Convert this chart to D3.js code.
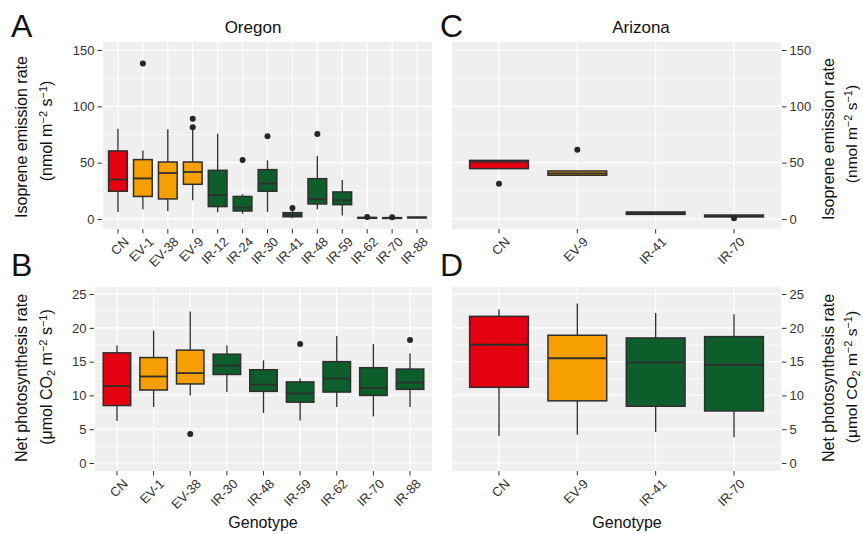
<!DOCTYPE html>
<html>
<head>
<meta charset="utf-8">
<script src="https://d3js.org/d3.v7.min.js"></script>
<style>
  body { margin: 0; background: #fff; }
  text { font-family: "Liberation Sans", Arial, sans-serif; }
  .tick text, .xlab { font-size: 13px; fill: #333; }
  .tick line { stroke: #333; }
  path.domain { display: none; }
  .atitle { font-size: 16px; fill: #111; }
  .strip { font-size: 17px; fill: #111; }
  .letter { font-size: 32px; fill: #111; }
</style>
</head>
<body>
<script>
// ---- data ----
// boxes: [lower whisker, Q1, median, Q3, upper whisker]
const oregonIsoGenotypes = ['CN','EV-1','EV-38','EV-9','IR-12','IR-24','IR-30','IR-41','IR-48','IR-59','IR-62','IR-70','IR-88'];
const oregonIsoBoxes = [
  [6.2, 24.6, 35, 60.4, 80],
  [8.6, 20, 36, 52.7, 60.7],
  [6.8, 17.8, 40.8, 50.6, 79.6],
  [16.6, 30.8, 41.7, 50.6, 79],
  [6, 11, 21.3, 43.2, 75.7],
  [4.7, 7.1, 10, 20, 21.9],
  [6.2, 24.6, 31.4, 43.8, 52],
  [0.6, 2, 3.6, 5.6, 7.5],
  [8.6, 13.3, 17.5, 35.8, 56],
  [3, 12.7, 16.6, 24, 34.6],
  [0.3, 0.6, 1.0, 1.4, 1.8],
  [0.2, 0.5, 0.8, 1.2, 1.6],
  [0.8, 1.0, 1.3, 1.6, 1.9]
];
const oregonIsoOutliers = [[], [138], [], [81.4, 89], [], [52.4], [73.4], [9.8], [75.4], [], [1.8], [1.6], []];

const arizonaIsoGenotypes = ['CN','EV-9','IR-41','IR-70'];
const arizonaIsoBoxes = [
  [44.7, 44.7, 51, 52, 52],
  [38.8, 38.8, 40.5, 42.6, 42.6],
  [4.1, 4.1, 5, 6.2, 6.2],
  [1.8, 1.8, 2.8, 3.5, 3.5]
];
const arizonaIsoOutliers = [[31.2], [61.5], [], [0.6]];

const oregonPhotoGenotypes = ['CN','EV-1','EV-38','IR-30','IR-48','IR-59','IR-62','IR-70','IR-88'];
const oregonPhotoBoxes = [
  [6.2, 8.5, 11.4, 16.3, 17.4],
  [8.3, 10.8, 12.8, 15.6, 19.6],
  [10, 11.7, 13.3, 16.7, 22.4],
  [10.5, 13.1, 14.4, 16.1, 17.4],
  [7.4, 10.6, 11.6, 13.8, 15.2],
  [6.3, 9, 10.3, 12, 12.5],
  [8.3, 10.5, 12.5, 15, 18.8],
  [6.9, 10, 11.1, 14.1, 17.6],
  [8.3, 10.9, 11.9, 13.9, 16.2]
];
const oregonPhotoOutliers = [[], [], [4.3], [], [], [17.6], [], [], [18.2]];

const arizonaPhotoGenotypes = ['CN','EV-9','IR-41','IR-70'];
const arizonaPhotoBoxes = [
  [4, 11.2, 17.5, 21.7, 22.7],
  [4.2, 9.2, 15.5, 18.9, 23.6],
  [4.6, 8.4, 14.9, 18.5, 22.2],
  [3.8, 7.7, 14.5, 18.7, 22]
];
const arizonaPhotoOutliers = [[], [], [], []];

const isoTicks = [0, 50, 100, 150];
const photoTicks = [0, 5, 10, 15, 20, 25];

const width = 863, height = 534;
const svg = d3.select('body').append('svg')
  .attr('width', width).attr('height', height);
svg.append('rect').attr('width', width).attr('height', height).attr('fill', '#fff');

function fillFor(g) {
  if (g === 'CN') return '#e3000f';
  if (g.startsWith('EV')) return '#f5a000';
  return '#0d5e2a';
}

function panel(o) {
  const g = svg.append('g');
  const x = d3.scalePoint().domain(o.genotypes).range([o.x0, o.x1]).padding(0.6);
  const y = d3.scaleLinear().domain(o.domain).range([o.y1, o.y0]);
  const step = x.step(), bw = step * 0.75;

  g.append('rect')
    .attr('x', o.x0).attr('y', o.y0)
    .attr('width', o.x1 - o.x0).attr('height', o.y1 - o.y0)
    .attr('fill', '#efefef');

  // minor grid
  const minor = o.ticks.slice(1).map((t, i) => (t + o.ticks[i]) / 2);
  g.selectAll('line.minor').data(minor).enter().append('line')
    .attr('x1', o.x0).attr('x2', o.x1)
    .attr('y1', d => y(d)).attr('y2', d => y(d))
    .attr('stroke', '#fff').attr('stroke-width', 0.6);
  g.selectAll('line.major').data(o.ticks).enter().append('line')
    .attr('x1', o.x0).attr('x2', o.x1)
    .attr('y1', d => y(d)).attr('y2', d => y(d))
    .attr('stroke', '#fff').attr('stroke-width', 1.2);
  g.selectAll('line.vmajor').data(o.genotypes).enter().append('line')
    .attr('x1', d => x(d)).attr('x2', d => x(d))
    .attr('y1', o.y0).attr('y2', o.y1)
    .attr('stroke', '#fff').attr('stroke-width', 1.2);

  // boxes
  const items = o.genotypes.map((name, i) => ({name, s: o.boxes[i], out: o.outliers[i]}));
  const b = g.selectAll('g.box').data(items).enter().append('g');
  b.append('line')
    .attr('x1', d => x(d.name)).attr('x2', d => x(d.name))
    .attr('y1', d => y(d.s[0])).attr('y2', d => y(d.s[4]))
    .attr('stroke', '#2e2e2e').attr('stroke-width', 1.3);
  b.append('rect')
    .attr('x', d => x(d.name) - bw / 2).attr('width', bw)
    .attr('y', d => y(d.s[3])).attr('height', d => Math.max(y(d.s[1]) - y(d.s[3]), 0.5))
    .attr('fill', d => fillFor(d.name))
    .attr('stroke', '#2e2e2e').attr('stroke-width', 1.5);
  b.append('line')
    .attr('x1', d => x(d.name) - bw / 2).attr('x2', d => x(d.name) + bw / 2)
    .attr('y1', d => y(d.s[2])).attr('y2', d => y(d.s[2]))
    .attr('stroke', '#2e2e2e').attr('stroke-width', 1.8);
  b.selectAll('circle').data(d => d.out.map(v => ({name: d.name, v}))).enter().append('circle')
    .attr('cx', d => x(d.name)).attr('cy', d => y(d.v)).attr('r', 3)
    .attr('fill', '#262626');

  // y axis
  const axis = (o.side === 'left' ? d3.axisLeft(y) : d3.axisRight(y))
    .tickValues(o.ticks).tickSize(4.5).tickPadding(3);
  g.append('g')
    .attr('transform', `translate(${o.side === 'left' ? o.x0 - 1 : o.x1 + 1},0)`)
    .call(axis);

  // x ticks & rotated labels
  g.selectAll('line.xt').data(o.genotypes).enter().append('line')
    .attr('x1', d => x(d)).attr('x2', d => x(d))
    .attr('y1', o.y1).attr('y2', o.y1 + 4.5)
    .attr('stroke', '#333');
  g.selectAll('text.xlab').data(o.genotypes).enter().append('text')
    .attr('class', 'xlab')
    .attr('transform', d => `translate(${x(d) + 5},${o.y1 + 7}) rotate(-45)`)
    .attr('text-anchor', 'end')
    .attr('dy', '0.72em')
    .text(d => d);
}

const isoDomain = [-8.9, 157.1];
const photoDomain = [-1.18, 26.04];

panel({x0: 103, x1: 432, y0: 42, y1: 229, domain: isoDomain, ticks: isoTicks,
  genotypes: oregonIsoGenotypes, boxes: oregonIsoBoxes, outliers: oregonIsoOutliers, side: 'left'});
panel({x0: 452, x1: 781, y0: 42, y1: 229, domain: isoDomain, ticks: isoTicks,
  genotypes: arizonaIsoGenotypes, boxes: arizonaIsoBoxes, outliers: arizonaIsoOutliers, side: 'right'});
panel({x0: 95, x1: 432, y0: 287, y1: 471, domain: photoDomain, ticks: photoTicks,
  genotypes: oregonPhotoGenotypes, boxes: oregonPhotoBoxes, outliers: oregonPhotoOutliers, side: 'left'});
panel({x0: 452, x1: 781, y0: 287, y1: 471, domain: photoDomain, ticks: photoTicks,
  genotypes: arizonaPhotoGenotypes, boxes: arizonaPhotoBoxes, outliers: arizonaPhotoOutliers, side: 'right'});

// strip titles and letters
svg.append('text').attr('class', 'strip').attr('x', 253).attr('y', 33).attr('text-anchor', 'middle').text('Oregon');
svg.append('text').attr('class', 'strip').attr('x', 641).attr('y', 33).attr('text-anchor', 'middle').text('Arizona');
[['A', 11, 37], ['C', 440, 37], ['B', 11, 276], ['D', 440, 276]].forEach(([t, lx, ly]) => {
  svg.append('text').attr('class', 'letter').attr('x', lx).attr('y', ly).text(t);
});

// axis titles
function vTitle(x, cy, parts, size) {
  const t = svg.append('text').attr('class', 'atitle')
    .attr('transform', `translate(${x},${cy}) rotate(-90)`)
    .attr('text-anchor', 'middle');
  if (size) t.style('font-size', size + 'px');
  parts.forEach(p => {
    const ts = t.append('tspan').text(p[0]);
    if (p[1] === 'sup') ts.attr('baseline-shift', '45%').style('font-size', '11px');
    if (p[1] === 'sub') ts.attr('baseline-shift', '-25%').style('font-size', '11px');
  });
}
const isoUnit = [['(nmol m'], ['\u22122', 'sup'], [' s'], ['\u22121', 'sup'], [')']];
const photoUnit = [['(\u03bcmol CO'], ['2', 'sub'], [' m'], ['\u22122', 'sup'], [' s'], ['\u22121', 'sup'], [')']];

vTitle(27, 137, [['Isoprene emission rate']]);
vTitle(52, 131, isoUnit);
vTitle(834, 139, [['Isoprene emission rate']]);
vTitle(857, 134, isoUnit, 15.5);
vTitle(27, 378, [['Net photosynthesis rate']]);
vTitle(52, 377, photoUnit);
vTitle(834, 378, [['Net photosynthesis rate']]);
vTitle(857, 377, photoUnit, 15.5);

svg.append('text').attr('class', 'atitle').attr('x', 263).attr('y', 528).attr('text-anchor', 'middle').text('Genotype');
svg.append('text').attr('class', 'atitle').attr('x', 627).attr('y', 528).attr('text-anchor', 'middle').text('Genotype');
</script>
</body>
</html>
